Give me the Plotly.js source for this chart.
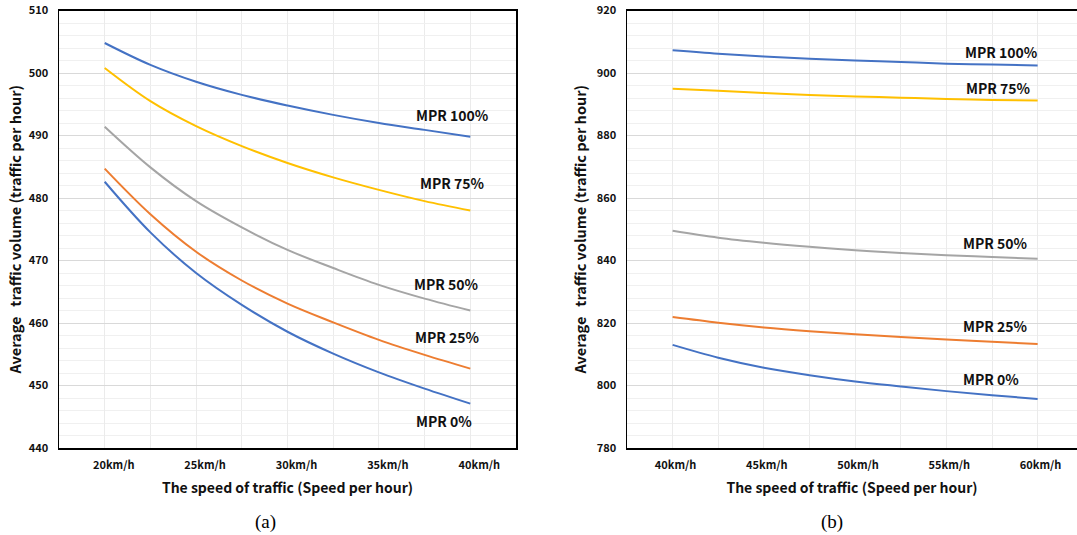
<!DOCTYPE html>
<html><head><meta charset="utf-8">
<script src="https://cdn.plot.ly/plotly-3.0.1.min.js"></script>
<style>html,body{margin:0;padding:0;background:#fff;} #chart{width:1077px;height:535px;}</style>
</head><body><div id="chart"></div>
<script>
// ---- data ----
const seriesNames = ['MPR 0%', 'MPR 25%', 'MPR 50%', 'MPR 75%', 'MPR 100%'];
const seriesColors = ['#4472C4', '#ED7D31', '#A5A5A5', '#FFC000', '#4472C4'];

const speedA = [20, 22.5, 25, 27.5, 30, 32.5, 35, 37.5, 40];
const volA_mpr0   = [482.6, 474.5, 468.0, 462.9, 458.6, 455.1, 452.1, 449.5, 447.1];
const volA_mpr25  = [484.7, 477.4, 471.4, 466.8, 463.1, 460.1, 457.3, 454.9, 452.7];
const volA_mpr50  = [491.4, 484.9, 479.5, 475.3, 471.7, 468.8, 466.1, 463.9, 462.0];
const volA_mpr75  = [500.8, 495.5, 491.5, 488.3, 485.6, 483.3, 481.3, 479.5, 478.0];
const volA_mpr100 = [504.8, 501.3, 498.6, 496.5, 494.8, 493.3, 492.0, 490.9, 489.8];

const speedB = [40, 42.5, 45, 47.5, 50, 52.5, 55, 57.5, 60];
const volB_mpr0   = [813.0, 808.9, 805.7, 803.3, 801.3, 799.7, 798.2, 796.9, 795.7];
const volB_mpr25  = [821.9, 820.1, 818.6, 817.4, 816.4, 815.5, 814.7, 814.0, 813.3];
const volB_mpr50  = [849.5, 847.3, 845.7, 844.4, 843.3, 842.4, 841.7, 841.1, 840.6];
const volB_mpr75  = [895.0, 894.3, 893.6, 893.0, 892.5, 892.1, 891.7, 891.4, 891.2];
const volB_mpr100 = [907.3, 906.2, 905.3, 904.6, 904.0, 903.5, 903.0, 902.7, 902.4];

const tickValsA = [20, 25, 30, 35, 40];
const tickTextA = ['20km/h', '25km/h', '30km/h', '35km/h', '40km/h'];
const tickValsB = [40, 45, 50, 55, 60];
const tickTextB = ['40km/h', '45km/h', '50km/h', '55km/h', '60km/h'];

const labelXA = [38.55, 38.74, 38.7, 39.0, 39.0];
const labelYA = [444.3, 457.7, 466.3, 482.4, 493.3];
const labelXB = [57.46, 57.69, 57.69, 57.86, 58.03];
const labelYB = [802.1, 819.0, 845.6, 895.2, 906.7];

const xTitle = 'The speed of traffic (Speed per hour)';
const yTitle = 'Average\u00a0\u00a0\u00a0traffic volume (traffic per hour)';
const panelLabels = ['(a)', '(b)'];

// ---- build ----
const W = 1077, H = 535;
const FONT = '"Noto Sans CJK KR","Noto Sans",sans-serif';
const seriesA = [volA_mpr0, volA_mpr25, volA_mpr50, volA_mpr75, volA_mpr100];
const seriesB = [volB_mpr0, volB_mpr25, volB_mpr50, volB_mpr75, volB_mpr100];

const traces = [];
seriesA.forEach((ys, i) => traces.push({
  x: speedA, y: ys, name: seriesNames[i], type: 'scatter', mode: 'lines',
  line: {color: seriesColors[i], width: 2, shape: 'spline', smoothing: 1},
  xaxis: 'x', yaxis: 'y', hoverinfo: 'skip'
}));
seriesB.forEach((ys, i) => traces.push({
  x: speedB, y: ys, name: seriesNames[i], type: 'scatter', mode: 'lines',
  line: {color: seriesColors[i], width: 2, shape: 'spline', smoothing: 1},
  xaxis: 'x2', yaxis: 'y2', hoverinfo: 'skip'
}));

const annotations = [];
seriesNames.forEach((n, i) => {
  annotations.push({x: labelXA[i], y: labelYA[i], xref: 'x', yref: 'y', text: n, showarrow: false,
    xanchor: 'center', yanchor: 'middle',
    font: {family: FONT, size: 14, color: '#111', weight: 'bold'}});
  annotations.push({x: labelXB[i], y: labelYB[i], xref: 'x2', yref: 'y2', text: n, showarrow: false,
    xanchor: 'center', yanchor: 'middle',
    font: {family: FONT, size: 14, color: '#111', weight: 'bold'}});
});
const serif = {family: '"Liberation Serif","Times New Roman",serif', size: 19, color: '#000'};
annotations.push({x: 265 / W, y: 1 - 522 / H, xref: 'paper', yref: 'paper', text: panelLabels[0], showarrow: false,
  xanchor: 'center', yanchor: 'middle', font: serif});
annotations.push({x: 832 / W, y: 1 - 522 / H, xref: 'paper', yref: 'paper', text: panelLabels[1], showarrow: false,
  xanchor: 'center', yanchor: 'middle', font: serif});

const tickFont = {family: FONT, size: 11, color: '#111', weight: 'bold'};
const xTitleFont = {family: FONT, size: 14, color: '#111', weight: 'bold'};
const yTitleFont = {family: FONT, size: 14.5, color: '#111', weight: 'bold'};

function xAxis(domain, range, vals, texts, shift, mirror) {
  return {
    domain: domain, range: range, tickmode: 'array', tickvals: vals, ticktext: texts,
    showgrid: true, gridcolor: '#ebebeb', gridwidth: 1,
    minor: {dtick: 2.5, tick0: 0, showgrid: true, gridcolor: '#ebebeb', gridwidth: 1},
    showline: true, linecolor: '#000', linewidth: 1.5, mirror: mirror,
    ticks: '', ticklabelshift: shift, ticklabelstandoff: 6, zeroline: false, fixedrange: true,
    tickfont: tickFont, title: {text: xTitle, font: xTitleFont, standoff: 12}
  };
}
function yAxis(domain, range, dtick, minorDtick, mirror, standoff) {
  return {
    domain: domain, range: range, dtick: dtick, tick0: 0,
    showgrid: true, gridcolor: '#d9d9d9', gridwidth: 1,
    minor: {dtick: minorDtick, tick0: 0, showgrid: true, gridcolor: '#f0f0f0', gridwidth: 1},
    showline: true, linecolor: '#000', linewidth: 1.5, mirror: mirror,
    ticks: '', ticklabelstandoff: 7, zeroline: false, fixedrange: true,
    tickfont: tickFont, title: {text: yTitle, font: yTitleFont, standoff: standoff}
  };
}

const yDom = [1 - 448 / H, 1 - 10.5 / H];
const layout = {
  width: W, height: H, margin: {l: 0, r: 0, t: 0, b: 0, pad: 0},
  paper_bgcolor: '#fff', plot_bgcolor: '#fff', showlegend: false,
  font: {family: FONT, size: 11, color: '#111'},
  xaxis: xAxis([59 / W, 516 / W], [17.5, 42.5], tickValsA, tickTextA, 9, true),
  yaxis: yAxis(yDom, [440, 510], 10, 2, true, 3),
  xaxis2: xAxis([627 / W, 1], [37.5, 37.5 + (W - 627) / 18.25], tickValsB, tickTextB, 3, true),
  yaxis2: yAxis(yDom, [780, 920], 20, 4, false, 6),
  annotations: annotations
};
layout.xaxis.anchor = 'y';
layout.yaxis.anchor = 'x';
layout.xaxis2.anchor = 'y2';
layout.yaxis2.anchor = 'x2';

Plotly.newPlot('chart', traces, layout, {staticPlot: true, displayModeBar: false});
</script>
</body></html>
